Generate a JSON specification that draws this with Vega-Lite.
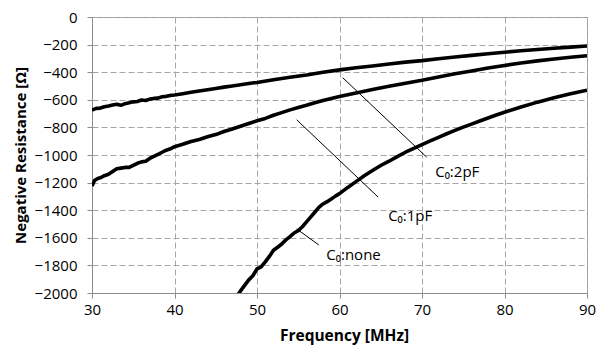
{
  "$schema": "https://vega.github.io/schema/vega-lite/v6.json",
  "width": 495,
  "height": 276,
  "autosize": "none",
  "padding": {"left": 92, "top": 17, "right": 14, "bottom": 56},
  "background": "white",
  "config": {
    "view": {"stroke": "#9a9a9a", "strokeWidth": 1},
    "font": "Open Sans",
    "axis": {
      "labelFont": "Open Sans",
      "labelFontSize": 15,
      "labelColor": "#000000",
      "titleFont": "Open Sans",
      "titleFontSize": 15,
      "titleFontWeight": "bold",
      "titleColor": "#000000",
      "domainColor": "#8c8c8c",
      "tickColor": "#8c8c8c",
      "tickSize": 5,
      "gridColor": "#a6a6a6",
      "gridDash": [6, 3],
      "gridWidth": 1
    }
  },
  "datasets": {
    "curves": [
      {"f": 30, "r": -675, "s": "2pF"}, {"f": 30.5, "r": -662, "s": "2pF"}, {"f": 31, "r": -660, "s": "2pF"}, {"f": 31.5, "r": -650, "s": "2pF"}, {"f": 32, "r": -645, "s": "2pF"}, {"f": 32.5, "r": -638, "s": "2pF"}, {"f": 33, "r": -632, "s": "2pF"}, {"f": 33.5, "r": -640, "s": "2pF"}, {"f": 34, "r": -628, "s": "2pF"}, {"f": 34.5, "r": -622, "s": "2pF"}, {"f": 35, "r": -615, "s": "2pF"}, {"f": 35.5, "r": -612, "s": "2pF"}, {"f": 36, "r": -602, "s": "2pF"}, {"f": 36.5, "r": -605, "s": "2pF"}, {"f": 37, "r": -595, "s": "2pF"}, {"f": 37.5, "r": -590, "s": "2pF"}, {"f": 38, "r": -588, "s": "2pF"}, {"f": 38.5, "r": -578, "s": "2pF"}, {"f": 39, "r": -575, "s": "2pF"}, {"f": 39.5, "r": -568, "s": "2pF"}, {"f": 40, "r": -565, "s": "2pF"}, {"f": 41, "r": -556, "s": "2pF"}, {"f": 42, "r": -546, "s": "2pF"}, {"f": 43, "r": -536, "s": "2pF"}, {"f": 44, "r": -527, "s": "2pF"}, {"f": 45, "r": -518, "s": "2pF"}, {"f": 46, "r": -508, "s": "2pF"}, {"f": 47, "r": -500, "s": "2pF"}, {"f": 48, "r": -491, "s": "2pF"}, {"f": 49, "r": -482, "s": "2pF"}, {"f": 50, "r": -474, "s": "2pF"}, {"f": 52, "r": -455, "s": "2pF"}, {"f": 54, "r": -437, "s": "2pF"}, {"f": 56, "r": -420, "s": "2pF"}, {"f": 58, "r": -400, "s": "2pF"}, {"f": 60, "r": -383, "s": "2pF"}, {"f": 62, "r": -368, "s": "2pF"}, {"f": 64, "r": -355, "s": "2pF"}, {"f": 66, "r": -341, "s": "2pF"}, {"f": 68, "r": -327, "s": "2pF"}, {"f": 70, "r": -316, "s": "2pF"}, {"f": 72, "r": -302, "s": "2pF"}, {"f": 74, "r": -290, "s": "2pF"}, {"f": 76, "r": -278, "s": "2pF"}, {"f": 78, "r": -266, "s": "2pF"}, {"f": 80, "r": -255, "s": "2pF"}, {"f": 82, "r": -245, "s": "2pF"}, {"f": 84, "r": -236, "s": "2pF"}, {"f": 86, "r": -227, "s": "2pF"}, {"f": 88, "r": -218, "s": "2pF"}, {"f": 90, "r": -210, "s": "2pF"},
      {"f": 30, "r": -1225, "s": "1pF"}, {"f": 30.3, "r": -1185, "s": "1pF"}, {"f": 30.7, "r": -1170, "s": "1pF"}, {"f": 31, "r": -1165, "s": "1pF"}, {"f": 31.5, "r": -1150, "s": "1pF"}, {"f": 32, "r": -1140, "s": "1pF"}, {"f": 32.5, "r": -1120, "s": "1pF"}, {"f": 33, "r": -1100, "s": "1pF"}, {"f": 33.5, "r": -1095, "s": "1pF"}, {"f": 34, "r": -1090, "s": "1pF"}, {"f": 34.5, "r": -1090, "s": "1pF"}, {"f": 35, "r": -1075, "s": "1pF"}, {"f": 35.5, "r": -1060, "s": "1pF"}, {"f": 36, "r": -1050, "s": "1pF"}, {"f": 36.5, "r": -1045, "s": "1pF"}, {"f": 37, "r": -1025, "s": "1pF"}, {"f": 37.5, "r": -1010, "s": "1pF"}, {"f": 38, "r": -995, "s": "1pF"}, {"f": 38.5, "r": -980, "s": "1pF"}, {"f": 39, "r": -965, "s": "1pF"}, {"f": 39.5, "r": -955, "s": "1pF"}, {"f": 40, "r": -940, "s": "1pF"}, {"f": 41, "r": -922, "s": "1pF"}, {"f": 42, "r": -902, "s": "1pF"}, {"f": 43, "r": -888, "s": "1pF"}, {"f": 44, "r": -868, "s": "1pF"}, {"f": 45, "r": -852, "s": "1pF"}, {"f": 46, "r": -830, "s": "1pF"}, {"f": 47, "r": -812, "s": "1pF"}, {"f": 48, "r": -792, "s": "1pF"}, {"f": 49, "r": -772, "s": "1pF"}, {"f": 50, "r": -752, "s": "1pF"}, {"f": 51, "r": -735, "s": "1pF"}, {"f": 52, "r": -712, "s": "1pF"}, {"f": 53, "r": -693, "s": "1pF"}, {"f": 54, "r": -673, "s": "1pF"}, {"f": 55, "r": -656, "s": "1pF"}, {"f": 56, "r": -640, "s": "1pF"}, {"f": 57, "r": -622, "s": "1pF"}, {"f": 58, "r": -605, "s": "1pF"}, {"f": 59, "r": -590, "s": "1pF"}, {"f": 60, "r": -576, "s": "1pF"}, {"f": 62, "r": -550, "s": "1pF"}, {"f": 64, "r": -525, "s": "1pF"}, {"f": 66, "r": -502, "s": "1pF"}, {"f": 68, "r": -480, "s": "1pF"}, {"f": 70, "r": -459, "s": "1pF"}, {"f": 72, "r": -435, "s": "1pF"}, {"f": 74, "r": -412, "s": "1pF"}, {"f": 76, "r": -391, "s": "1pF"}, {"f": 78, "r": -370, "s": "1pF"}, {"f": 80, "r": -351, "s": "1pF"}, {"f": 82, "r": -334, "s": "1pF"}, {"f": 84, "r": -318, "s": "1pF"}, {"f": 86, "r": -304, "s": "1pF"}, {"f": 88, "r": -292, "s": "1pF"}, {"f": 90, "r": -281, "s": "1pF"},
      {"f": 47.6, "r": -2020, "s": "none"}, {"f": 48, "r": -1985, "s": "none"}, {"f": 48.5, "r": -1945, "s": "none"}, {"f": 49, "r": -1905, "s": "none"}, {"f": 49.5, "r": -1875, "s": "none"}, {"f": 50, "r": -1825, "s": "none"}, {"f": 50.5, "r": -1810, "s": "none"}, {"f": 51, "r": -1775, "s": "none"}, {"f": 51.5, "r": -1735, "s": "none"}, {"f": 52, "r": -1690, "s": "none"}, {"f": 52.5, "r": -1668, "s": "none"}, {"f": 53, "r": -1645, "s": "none"}, {"f": 53.5, "r": -1615, "s": "none"}, {"f": 54, "r": -1592, "s": "none"}, {"f": 54.5, "r": -1565, "s": "none"}, {"f": 55, "r": -1548, "s": "none"}, {"f": 55.5, "r": -1520, "s": "none"}, {"f": 56, "r": -1485, "s": "none"}, {"f": 56.5, "r": -1450, "s": "none"}, {"f": 57, "r": -1415, "s": "none"}, {"f": 57.5, "r": -1380, "s": "none"}, {"f": 58, "r": -1355, "s": "none"}, {"f": 58.5, "r": -1338, "s": "none"}, {"f": 59, "r": -1318, "s": "none"}, {"f": 59.5, "r": -1298, "s": "none"}, {"f": 60, "r": -1280, "s": "none"}, {"f": 61, "r": -1235, "s": "none"}, {"f": 62, "r": -1193, "s": "none"}, {"f": 63, "r": -1150, "s": "none"}, {"f": 64, "r": -1112, "s": "none"}, {"f": 65, "r": -1076, "s": "none"}, {"f": 66, "r": -1045, "s": "none"}, {"f": 67, "r": -1012, "s": "none"}, {"f": 68, "r": -980, "s": "none"}, {"f": 69, "r": -952, "s": "none"}, {"f": 70, "r": -925, "s": "none"}, {"f": 71, "r": -898, "s": "none"}, {"f": 72, "r": -872, "s": "none"}, {"f": 73, "r": -846, "s": "none"}, {"f": 74, "r": -822, "s": "none"}, {"f": 75, "r": -798, "s": "none"}, {"f": 76, "r": -776, "s": "none"}, {"f": 77, "r": -754, "s": "none"}, {"f": 78, "r": -732, "s": "none"}, {"f": 79, "r": -710, "s": "none"}, {"f": 80, "r": -690, "s": "none"}, {"f": 82, "r": -652, "s": "none"}, {"f": 84, "r": -617, "s": "none"}, {"f": 86, "r": -585, "s": "none"}, {"f": 88, "r": -557, "s": "none"}, {"f": 90, "r": -530, "s": "none"}
    ],
    "leaders": [
      {"f": 60.39, "r": -440, "f2": 70.57, "r2": -1016},
      {"f": 54.81, "r": -745, "f2": 64.7, "r2": -1306},
      {"f": 54.81, "r": -1536, "f2": 57.5, "r2": -1652}
    ],
    "labels": [
      {"f": 71.6, "r": -1120, "t": "C₀:2pF"},
      {"f": 65.9, "r": -1443, "t": "C₀:1pF"},
      {"f": 58.4, "r": -1722, "t": "C₀:none"}
    ]
  },
  "encoding": {
    "x": {
      "field": "f", "type": "quantitative",
      "scale": {"domain": [30, 90], "nice": false, "zero": false},
      "axis": {"values": [30, 40, 50, 60, 70, 80, 90], "title": "Frequency [MHz]", "titleFontSize": 15.5, "labelPadding": 4, "titlePadding": 11, "titleX": 252, "labelFlush": false}
    },
    "y": {
      "field": "r", "type": "quantitative",
      "scale": {"domain": [-2000, 0], "nice": false, "zero": false},
      "axis": {"values": [-2000, -1800, -1600, -1400, -1200, -1000, -800, -600, -400, -200, 0], "title": "Negative Resistance [Ω]", "labelPadding": 10, "titlePadding": 6, "format": "d", "labelFlush": false}
    }
  },
  "layer": [
    {
      "data": {"name": "curves"},
      "mark": {"type": "line", "color": "#000000", "strokeWidth": 3.6, "clip": true, "strokeJoin": "round"},
      "encoding": {"detail": {"field": "s", "type": "nominal"}}
    },
    {
      "data": {"name": "leaders"},
      "mark": {"type": "rule", "color": "#000000", "strokeWidth": 1},
      "encoding": {
        "x2": {"field": "f2"},
        "y2": {"field": "r2"}
      }
    },
    {
      "data": {"name": "labels"},
      "mark": {"type": "text", "align": "left", "baseline": "middle", "fontSize": 15, "font": "Open Sans", "color": "#000000"},
      "encoding": {"text": {"field": "t", "type": "nominal"}}
    }
  ]
}
